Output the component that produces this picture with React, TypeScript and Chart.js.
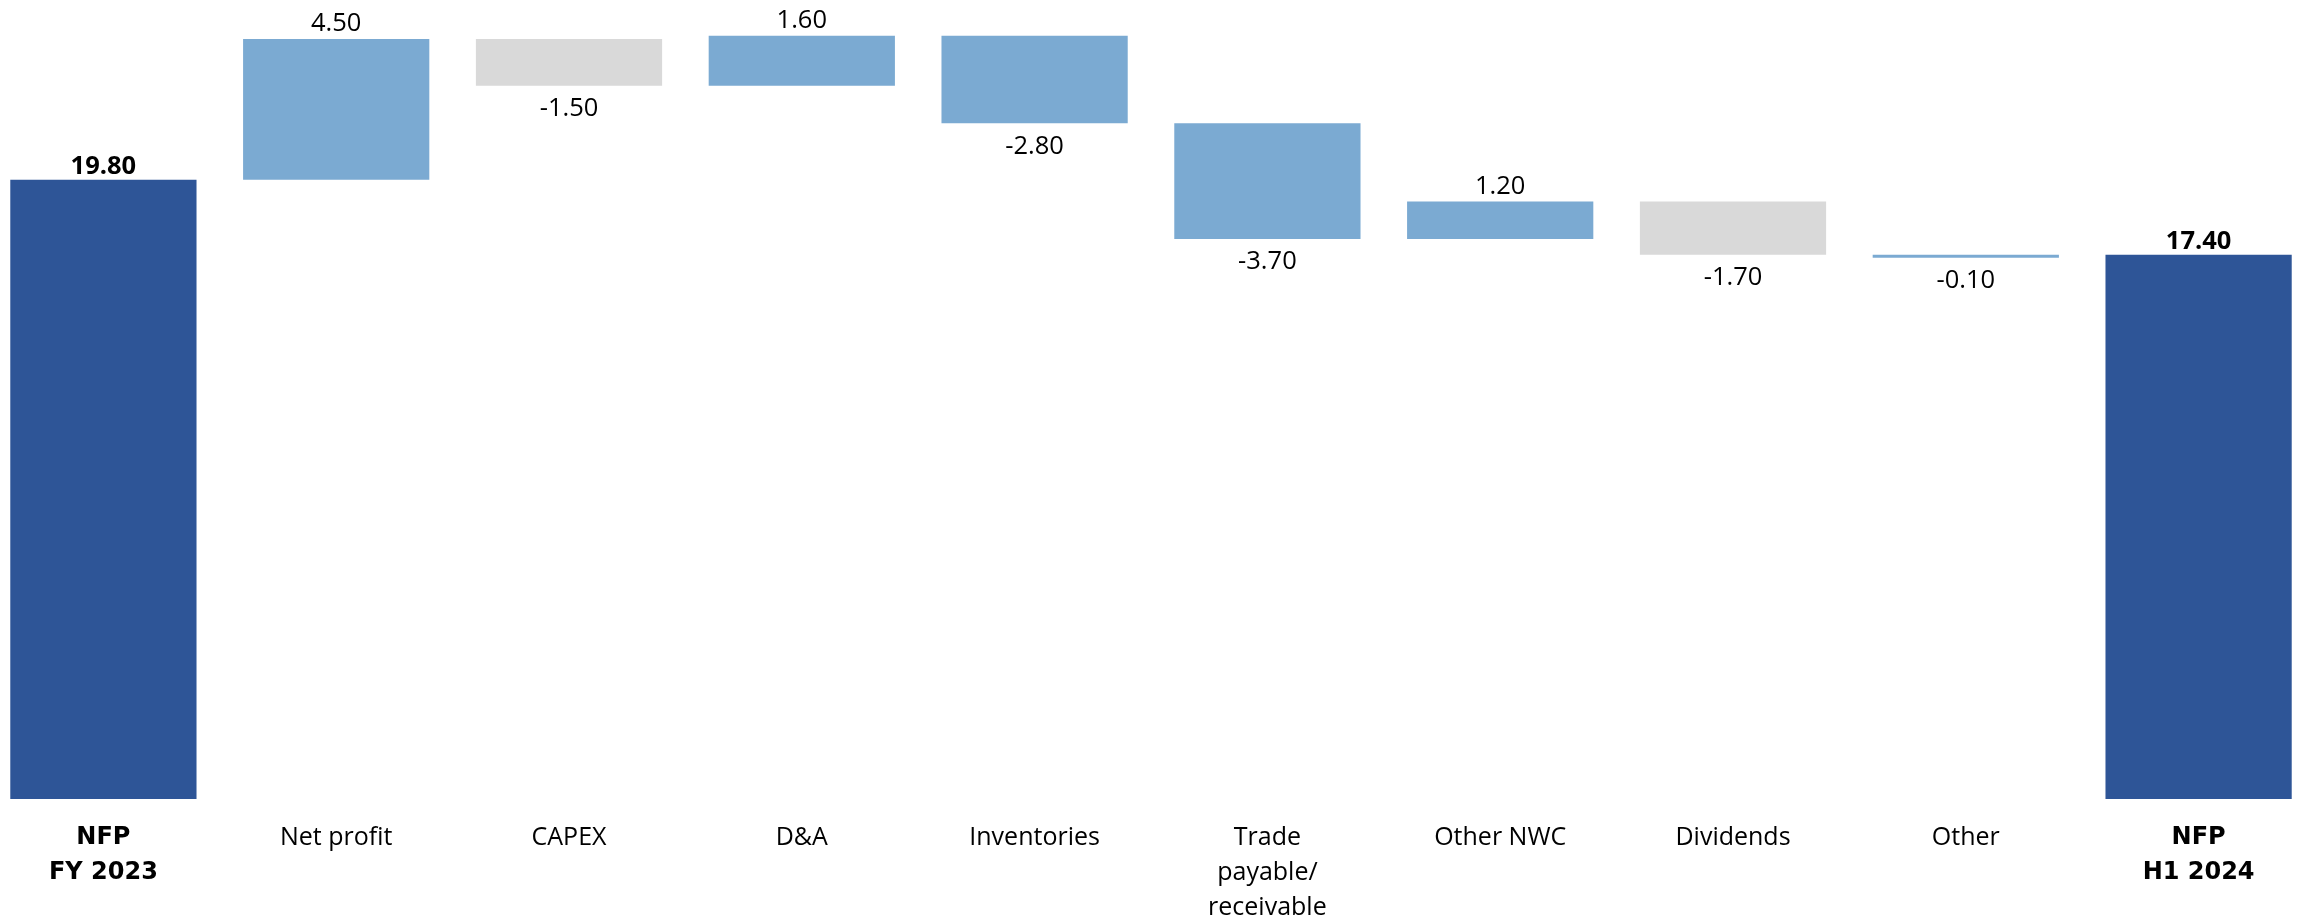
import React, { useEffect, useRef } from "react";
import { Chart, registerables } from "chart.js";

Chart.register(...registerables);

// ---- Data ----
const categories: string[][] = [
  ["NFP", "FY 2023"],
  ["Net profit"],
  ["CAPEX"],
  ["D&A"],
  ["Inventories"],
  ["Trade", "payable/", "receivable"],
  ["Other NWC"],
  ["Dividends"],
  ["Other"],
  ["NFP", "H1 2024"],
];
const values: number[] = [19.8, 4.5, -1.5, 1.6, -2.8, -3.7, 1.2, -1.7, -0.1, 17.4];
// "total" = opening/closing bar, "flow" = blue step, "cash" = grey step
const barKinds: string[] = ["total", "flow", "cash", "flow", "flow", "flow", "flow", "cash", "flow", "total"];

const palette: Record<string, string> = {
  total: "#2E5597",
  flow: "#7BAAD2",
  cash: "#D9D9D9",
};

const FONT = "'Open Sans', 'Noto Sans', sans-serif";
const BOLD_AXIS_FONT = "'DejaVu Sans', 'Open Sans', sans-serif";

function buildRanges(): [number, number][] {
  const out: [number, number][] = [];
  let running = 0;
  values.forEach((v, i) => {
    if (barKinds[i] === "total") {
      out.push([0, v]);
      running = v;
    } else {
      const start = running;
      const end = +(running + v).toFixed(4);
      out.push([start, end]);
      running = end;
    }
  });
  return out;
}

const valueLabels = {
  id: "valueLabels",
  afterDatasetsDraw(chart: any) {
    const ctx = chart.ctx;
    const meta = chart.getDatasetMeta(0);
    ctx.save();
    ctx.fillStyle = "#000";
    ctx.textAlign = "center";
    ctx.textBaseline = "middle";
    meta.data.forEach((el: any, i: number) => {
      const v = values[i];
      const top = Math.min(el.y, el.base);
      const bottom = Math.max(el.y, el.base);
      const text = v.toFixed(2);
      if (barKinds[i] === "total") {
        ctx.font = `bold 25.5px ${FONT}`;
        ctx.fillText(text, el.x, top - 13);
      } else if (v >= 0) {
        ctx.font = `25.5px ${FONT}`;
        ctx.fillText(text, el.x, top - 15);
      } else {
        ctx.font = `25.5px ${FONT}`;
        ctx.fillText(text, el.x, bottom + 23);
      }
    });
    ctx.restore();
  },
};

export default function App() {
  const ref = useRef<HTMLCanvasElement | null>(null);

  useEffect(() => {
    if (!ref.current) return;
    const chart = new Chart(ref.current, {
      type: "bar",
      data: {
        labels: categories,
        datasets: [
          {
            data: buildRanges() as any,
            backgroundColor: barKinds.map((k) => palette[k]),
            borderWidth: 0,
            categoryPercentage: 0.8,
            barPercentage: 1,
          },
        ],
      },
      options: {
        responsive: false,
        animation: false,
        devicePixelRatio: 1,
        layout: { padding: { top: 17, left: 0, right: 0, bottom: 0 } },
        plugins: {
          legend: { display: false },
          tooltip: { enabled: false },
        },
        scales: {
          x: {
            border: { display: false },
            grid: { display: false, drawTicks: false },
            ticks: {
              color: "#000",
              padding: 21,
              maxRotation: 0,
              autoSkip: false,
              font: (c: any) => {
                const isTotal = c.index === 0 || c.index === categories.length - 1;
                return isTotal
                  ? { family: BOLD_AXIS_FONT, size: 24, lineHeight: 35 / 24, weight: "bold" }
                  : { family: FONT, size: 25, lineHeight: 1.4, weight: "normal" };
              },
            },
          },
          y: {
            display: false,
            min: 0,
            max: 25,
          },
        },
      },
      plugins: [valueLabels],
    });
    return () => chart.destroy();
  }, []);

  return (
    <div style={{ position: "fixed", left: 0, top: 0, width: "100vw", height: "100vh", overflow: "hidden", background: "#fff" }}>
      <div style={{ position: "absolute", left: -13, top: 0, width: 2328, height: 946 }}>
        <canvas ref={ref} width={2328} height={946} />
      </div>
    </div>
  );
}
